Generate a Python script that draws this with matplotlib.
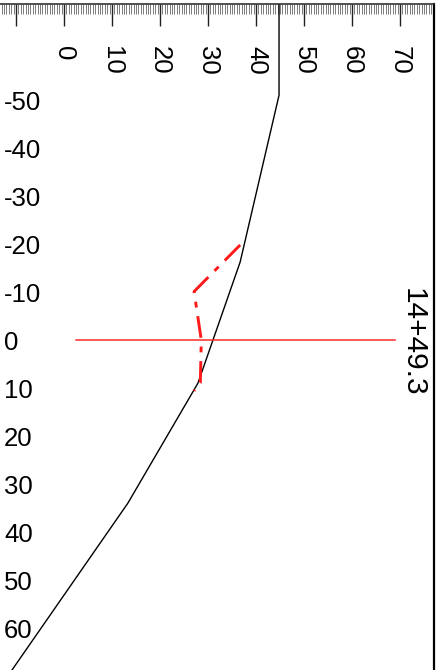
import matplotlib
matplotlib.use("Agg")
import matplotlib.pyplot as plt
from matplotlib.ticker import MultipleLocator

plt.rcParams['font.family'] = ['Liberation Sans', 'DejaVu Sans']

# Ground profile (offset, elevation-axis value)
ground_x = [44.8, 44.8, 36.7, 27.9, 13.3, -11.7]
ground_y = [-75.0, -51.0, -16.25, 9.0, 34.0, 70.0]

# Design template (dash-dot)
design_x = [36.7, 27.1, 28.6, 28.4, 27.1]
design_y = [-19.8, -10.1, 0.0, 8.9, 10.6]

# Centre line marker
cl_x = [2.5, 69.0]
cl_y = [0.0, 0.0]

station_label = "14+49.3"
station_pos = (72.6, 0.4)

x_ticks = [0, 10, 20, 30, 40, 50, 60, 70]
y_ticks = [-50, -40, -30, -20, -10, 0, 10, 20, 30, 40, 50, 60]

W, H = 442, 670
fig = plt.figure(figsize=(W / 100, H / 100), dpi=100)
ax = fig.add_axes([0, 0, 434 / W, 666 / H])

ax.plot(ground_x, ground_y, color='black', lw=1.0)
ax.plot(design_x, design_y, color='#ff1a1a', lw=2.1, dashes=(7.5, 3, 2, 3))
ax.plot(cl_x, cl_y, color='#ff2a2a', lw=1.1)

ax.text(station_pos[0], station_pos[1], station_label, rotation=-90,
        ha='center', va='center', fontsize=21.5, color='black')

ax.set_xlim(-64 / 4.8, (434 - 64) / 4.8)
ax.set_ylim((670 - 340) / 4.8, (4 - 340) / 4.8)

ax.xaxis.set_minor_locator(MultipleLocator(0.5))
ax.set_xticks(x_ticks + [-10])
ax.set_xticklabels([str(v) for v in x_ticks] + [''])
ax.xaxis.tick_top()
ax.tick_params(axis='x', which='major', direction='in', length=15.5, width=1.0,
               color='#222222', pad=-30, labelsize=18.5, labelrotation=-90)
ax.tick_params(axis='x', which='minor', direction='in', length=7.5, width=0.6,
               color='#666666', top=True, bottom=False)
for lab in ax.get_xticklabels():
    lab.set_verticalalignment('top')

ax.set_yticks(y_ticks)
ax.set_yticklabels([str(v) for v in y_ticks])
ax.tick_params(axis='y', which='both', length=0, pad=-3, labelsize=18.5)
for lab in ax.get_yticklabels():
    lab.set_horizontalalignment('left')

ax.spines['left'].set_visible(False)
ax.spines['bottom'].set_visible(False)
ax.spines['top'].set_linewidth(1.2)
ax.spines['top'].set_color('#333333')
ax.spines['right'].set_linewidth(1.6)
ax.spines['right'].set_color('black')

fig.savefig('out.png', dpi=100)
